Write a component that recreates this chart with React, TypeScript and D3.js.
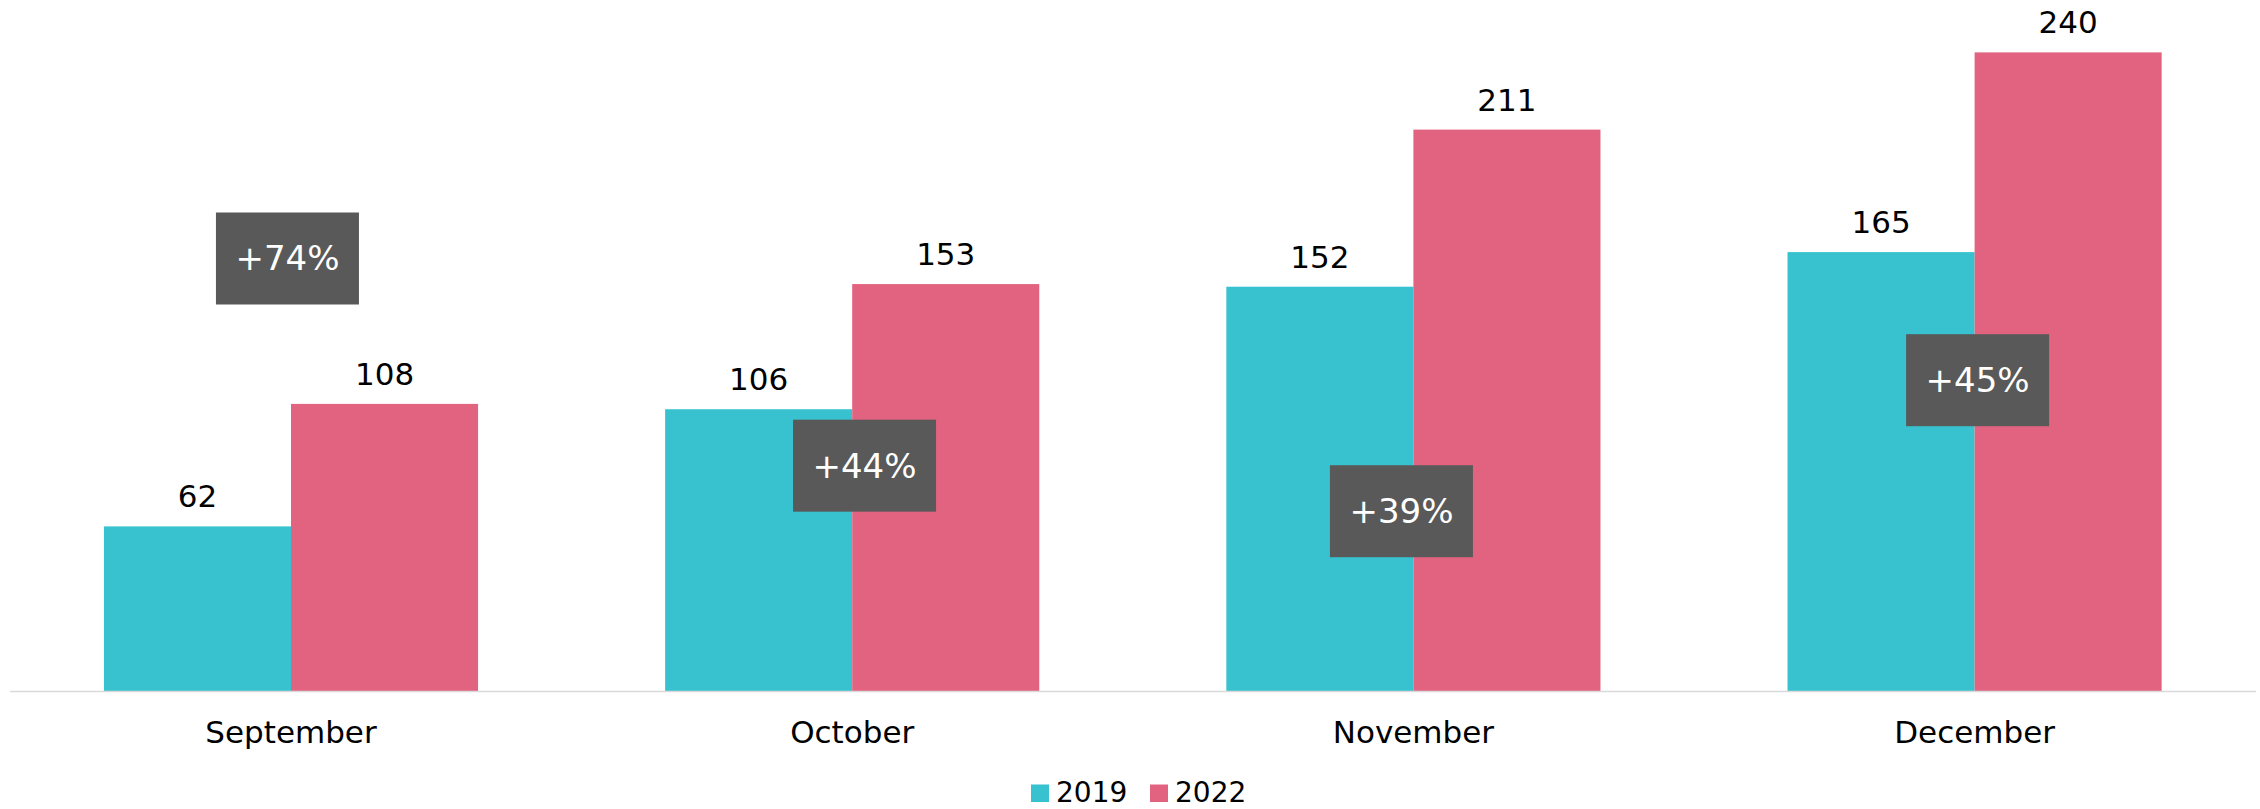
import React from "react";
import * as d3 from "d3";

const months = ["September", "October", "November", "December"];
const seriesNames = ["2019", "2022"];
const values2019 = [62, 106, 152, 165];
const values2022 = [108, 153, 211, 240];
const changeLabels = ["+74%", "+44%", "+39%", "+45%"];
const changeLevel = [162.6, 84.8, 67.7, 116.9];
const changeShift = [-0.019, 0.066, -0.064, 0.016];

const W = 2260;
const H = 809;
const COLORS = ["#38C2CF", "#E26380"];
const FONT = "'DejaVu Sans', sans-serif";

export default function App() {
  const x = d3.scaleBand<string>().domain(months).range([10.4, 2255.2]).paddingInner(1 / 3).paddingOuter(1 / 6);
  const xs = d3.scaleBand<string>().domain(seriesNames).range([0, x.bandwidth()]);
  const y = d3.scaleLinear().domain([0, 250]).range([691.5, 691.5 - 250 * 2.663]);
  const series = [values2019, values2022];
  const boxW = 143;
  const boxH = 92;

  return (
    <svg width={W} height={H} style={{ position: "absolute", left: 0, top: 0, background: "#fff" }} fontFamily={FONT}>
      <rect x={0} y={0} width={W} height={H} fill="#fff" />
      {series.map((vals, si) =>
        vals.map((v, i) => {
          const bx = (x(months[i]) as number) + (xs(seriesNames[si]) as number);
          return (
            <g key={`b${si}-${i}`}>
              <rect x={bx} y={y(v)} width={xs.bandwidth()} height={y(0) - y(v)} fill={COLORS[si]} />
              <text x={bx + xs.bandwidth() / 2} y={y(v) - 19} textAnchor="middle" fontSize={31} fill="#000">
                {v}
              </text>
            </g>
          );
        })
      )}
      <line x1={10} x2={2256} y1={y(0)} y2={y(0)} stroke="#D9D9D9" strokeWidth={1.5} />
      {months.map((m, i) => (
        <text key={m} x={(x(m) as number) + x.bandwidth() / 2} y={743} textAnchor="middle" fontSize={31} fill="#000">
          {m}
        </text>
      ))}
      {changeLabels.map((lab, i) => {
        const cx = (x(months[i]) as number) + x.bandwidth() / 2 + changeShift[i] * xs.bandwidth();
        const cy = y(changeLevel[i]);
        return (
          <g key={lab}>
            <rect x={cx - boxW / 2} y={cy - boxH / 2} width={boxW} height={boxH} fill="#595959" />
            <text x={cx} y={cy + 12} textAnchor="middle" fontSize={34} fill="#fff">
              {lab}
            </text>
          </g>
        );
      })}
      {seriesNames.map((s, i) => {
        const lx = [1031, 1150][i];
        return (
          <g key={s}>
            <rect x={lx} y={784.5} width={18} height={17.5} fill={COLORS[i]} />
            <text x={lx + 25} y={802} fontSize={28} fill="#000">
              {s}
            </text>
          </g>
        );
      })}
    </svg>
  );
}
